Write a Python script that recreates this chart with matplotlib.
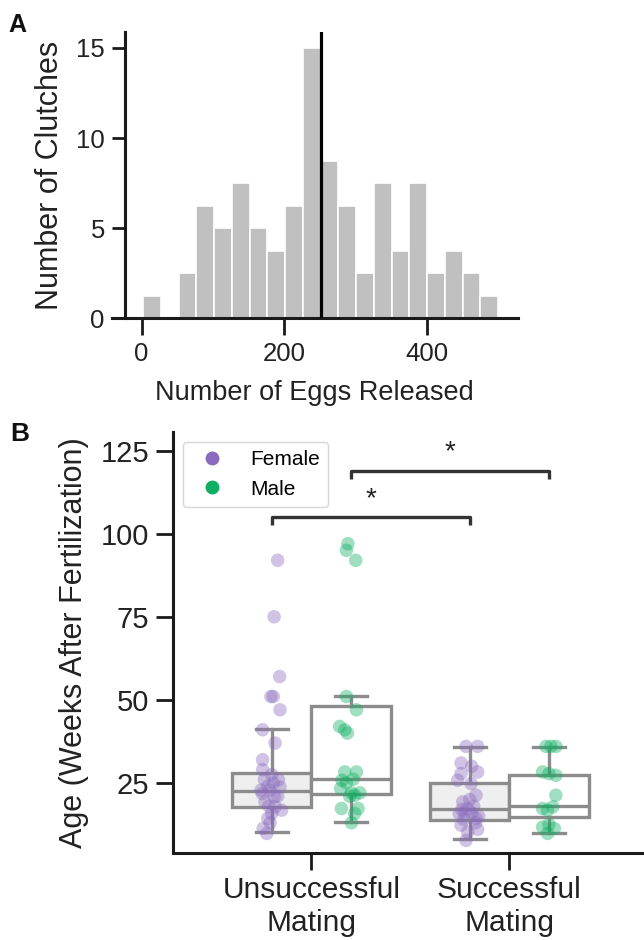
import matplotlib
matplotlib.use("Agg")
import matplotlib.pyplot as plt
from matplotlib.lines import Line2D
import numpy as np

plt.rcParams['font.family'] = ['Liberation Sans', 'DejaVu Sans']

# ---------------- Panel A data ----------------
egg_bin_edges = [2.0, 26.9, 51.8, 76.7, 101.6, 126.5, 151.4, 176.3, 201.2, 226.1,
                 251.0, 275.9, 300.8, 325.7, 350.6, 375.5, 400.4, 425.3, 450.2, 475.1, 500.0]
clutch_counts = [1.25, 0, 2.5, 6.25, 5, 7.5, 5, 3.75, 6.25, 15,
                 8.75, 6.25, 2.5, 7.5, 3.75, 7.5, 2.5, 3.75, 2.5, 1.25]
median_eggs = 252
hist_xticks = [0, 200, 400]
hist_yticks = [0, 5, 10, 15]

# ---------------- Panel B data ----------------
categories = ['Unsuccessful\nMating', 'Successful\nMating']
sexes = ['Female', 'Male']
sex_colors = {'Female': '#8a6bbe', 'Male': '#10ae62'}

unsucc_female = [92, 75, 57, 51, 51, 47, 41, 37, 32, 26, 27.5, 26, 22.8, 22.8, 23.8,
                 21.8, 20.8, 19.3, 17.8, 15.8, 16.8, 14.3, 11.3, 9.8, 29, 25, 24, 21, 18, 13]
unsucc_female_jit = [0.03, 0.012, 0.04, 0.008, -0.004, 0.042, -0.046, 0.017, -0.046, -0.037,
                     0.0, 0.034, -0.054, -0.009, 0.042, -0.048, 0.013, -0.034, 0.017, 0.0,
                     0.05, -0.02, -0.043, -0.025, -0.046, 0.008, -0.02, 0.03, -0.015, -0.008]

unsucc_male = [97, 95, 92, 51, 47, 42, 41, 40, 28.3, 28.3, 25.8, 26.1, 23.3, 22, 22,
               21.3, 17.3, 17.3, 15.8, 13, 25, 21]
unsucc_male_jit = [-0.015, -0.023, 0.024, -0.023, 0.028, -0.057, -0.031, -0.018, -0.031, 0.028,
                   -0.045, 0.011, -0.052, 0.003, 0.045, 0.019, -0.048, 0.036, 0.019, 0.003,
                   -0.023, -0.006]

succ_female = [36, 36, 31, 28.3, 27.8, 25.8, 24.8, 21.3, 19.3, 17.3, 15.8, 14.3, 12.3, 10.2, 7.7,
               18, 17, 16, 16, 15, 14, 20, 13, 11, 30]
succ_female_jit = [-0.019, 0.04, -0.044, 0.04, -0.044, -0.061, 0.007, 0.032, -0.035, -0.01,
                   -0.053, 0.032, -0.044, -0.01, -0.019, 0.02, -0.04, 0.01, -0.025, 0.045,
                   -0.03, 0.0, 0.03, 0.04, 0.01]

succ_male = [36, 36, 36, 28.3, 27.3, 27.8, 21.3, 17.3, 17.8, 16.8, 11.7, 11.3, 9.8, 12.5]
succ_male_jit = [-0.015, 0.035, 0.01, -0.032, 0.035, 0.0, 0.035, -0.032, 0.019, -0.007,
                 -0.032, 0.027, -0.007, 0.0]

# box statistics (female/male for each category)
box_q1 = [17.8, 21.8, 13.8, 14.8]
box_med = [22.6, 26.1, 17.1, 18.2]
box_q3 = [28.1, 48.1, 25.1, 27.5]
box_whislo = [10.1, 13.1, 8.0, 10.0]
box_whishi = [41.1, 51.1, 35.8, 35.8]

age_yticks = [25, 50, 75, 100, 125]
sig_pairs = [(-0.2, 0.8), (0.2, 1.2)]
sig_heights = [105, 119]
sig_labels = ['*', '*']

# ---------------- figure ----------------
W, H = 644, 940
fig = plt.figure(figsize=(W / 100, H / 100), dpi=100)


def rect(l, t, r, b):
    return [l / W, 1 - b / H, (r - l) / W, (b - t) / H]


axA = fig.add_axes(rect(111.7, 31.7, 518, 318.3))
axB = fig.add_axes(rect(172.7, 431.7, 644, 852.7))

spine_c = '#1a1a1a'
txt_c = '#222222'

# ---- Panel A ----
edges = np.array(egg_bin_edges)
axA.bar(edges[:-1], clutch_counts, width=np.diff(edges), align='edge',
        color='#c0c0c0', edgecolor='white', linewidth=1.2, zorder=2)
axA.axvline(median_eggs, color='black', lw=2.3, zorder=3)
axA.set_xlim(-42, 528)
axA.set_ylim(0, 15.9)
axA.set_xticks(hist_xticks)
axA.set_yticks(hist_yticks)
for s in ['top', 'right']:
    axA.spines[s].set_visible(False)
axA.spines['left'].set_position(('data', -23.4))
for s in ['left', 'bottom']:
    axA.spines[s].set_linewidth(2.2)
    axA.spines[s].set_color(spine_c)
axA.tick_params(axis='both', width=2.0, color=spine_c, labelsize=18.5, pad=5,
                labelcolor=txt_c)
axA.tick_params(axis='y', length=9.5)
axA.tick_params(axis='x', length=12)
axA.set_xlabel('Number of Eggs Released', fontsize=19.5, labelpad=10, color=txt_c)
axA.set_ylabel('Number of Clutches', fontsize=22, labelpad=8, color=txt_c)

# ---- Panel B ----
positions = [-0.2, 0.2, 0.8, 1.2]
stats = []
for i in range(4):
    stats.append(dict(med=box_med[i], q1=box_q1[i], q3=box_q3[i],
                      whislo=box_whislo[i], whishi=box_whishi[i], fliers=[]))
box_c = '#8c8c8c'
bp = axB.bxp(stats, positions=positions, widths=0.4, patch_artist=True, showfliers=False,
             capwidths=0.16,
             boxprops=dict(edgecolor=box_c, linewidth=2.4),
             whiskerprops=dict(color=box_c, linewidth=2.4),
             capprops=dict(color=box_c, linewidth=2.4),
             medianprops=dict(color=box_c, linewidth=2.4))
for i, patch in enumerate(bp['boxes']):
    patch.set_facecolor('#efefef' if i % 2 == 0 else 'white')
    patch.set_zorder(2)

groups = [(unsucc_female, unsucc_female_jit, 0, 'Female'),
          (unsucc_male, unsucc_male_jit, 0, 'Male'),
          (succ_female, succ_female_jit, 1, 'Female'),
          (succ_male, succ_male_jit, 1, 'Male')]
for vals, jit, cat, sex in groups:
    off = -0.2 if sex == 'Female' else 0.2
    xs = cat + off + np.array(jit)
    axB.scatter(xs, vals, s=95, color=sex_colors[sex], alpha=0.4, edgecolors='none', zorder=3)

for (x1, x2), h, lab in zip(sig_pairs, sig_heights, sig_labels):
    axB.plot([x1, x1, x2, x2], [h - 2.5, h, h, h - 2.5], color='#333333', lw=2.4,
             solid_capstyle='butt', zorder=4)
    axB.text((x1 + x2) / 2, h + 5.5, lab, ha='center', va='center', fontsize=20, color=txt_c)

axB.set_xlim(-0.70, 1.68)
axB.set_ylim(4, 130.7)
axB.set_xticks([0, 1])
axB.set_xticklabels(categories)
axB.set_yticks(age_yticks)
for s in ['top', 'right']:
    axB.spines[s].set_visible(False)
for s in ['left', 'bottom']:
    axB.spines[s].set_linewidth(2.2)
    axB.spines[s].set_color(spine_c)
axB.tick_params(axis='both', width=2.0, length=12, color=spine_c, pad=5, labelcolor=txt_c)
axB.tick_params(axis='x', labelsize=21.5)
axB.tick_params(axis='y', labelsize=21)
axB.set_ylabel('Age (Weeks After Fertilization)', fontsize=22, labelpad=8, color=txt_c)

handles = [Line2D([], [], marker='o', ls='', color=sex_colors[s], markersize=9) for s in sexes]
axB.legend(handles, sexes, loc='upper left', bbox_to_anchor=(0.0225, 0.976), borderaxespad=0,
           fontsize=15, frameon=True, edgecolor='#cccccc')

fig.text(8 / W, 1 - 32 / H, 'A', fontsize=18, fontweight='bold', va='baseline', color='#111111')
fig.text(10 / W, 1 - 441 / H, 'B', fontsize=19, fontweight='bold', va='baseline', color='#111111')

fig.savefig('out.png', dpi=100)
